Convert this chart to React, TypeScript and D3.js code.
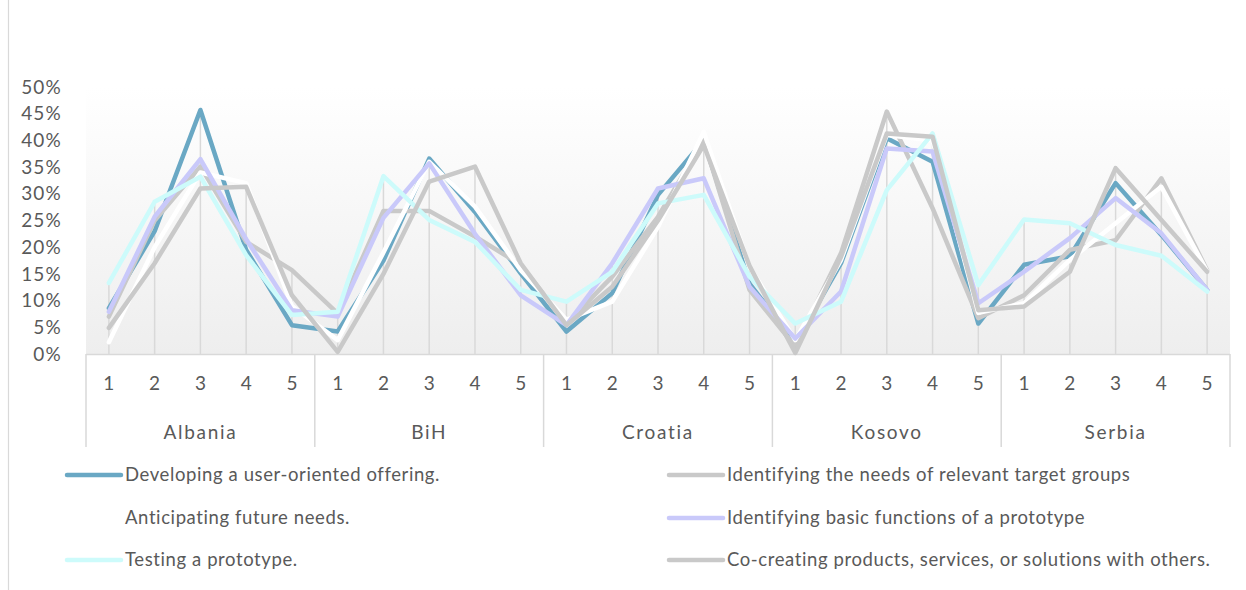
import React from "react";
import * as d3 from "d3";

const countries = ["Albania", "BiH", "Croatia", "Kosovo", "Serbia"];
const levels = ["1", "2", "3", "4", "5"];
const yTicks = [0, 0.05, 0.1, 0.15, 0.2, 0.25, 0.3, 0.35, 0.4, 0.45, 0.5];

const seriesNames = [
  "Developing a user-oriented offering.",
  "Identifying the needs of relevant target groups",
  "Anticipating future needs.",
  "Identifying basic functions of a prototype",
  "Testing a prototype.",
  "Co-creating products, services, or solutions with others.",
];
const seriesColors = ["#6aa8c4", "#c9c9c9", "#ffffff", "#c9c9fa", "#cdfbfb", "#c9c9c9"];

// values in percent, 5 countries x 5 levels
const developing = [8.6, 23, 45.7, 19.5, 5.4, 4.2, 17.5, 36.6, 26.6, 15.1, 4.2, 11.4, 29.8, 40, 13.2, 2, 17, 40.4, 36, 5.7, 16.7, 18.3, 32, 22.3, 12];
const identifyingNeeds = [7.0, 25, 35.1, 21, 15.7, 7.6, 26.8, 26.8, 22, 16.7, 5.7, 14.5, 25.7, 40, 12, 1.4, 18.9, 45.4, 27.3, 6.7, 11, 19.5, 21.3, 32.9, 15.7];
const anticipating = [2.2, 20, 34, 32, 9, 2.6, 19, 36, 27.6, 15.7, 6.4, 9.8, 23.8, 41.6, 16.3, 2.6, 17.6, 41, 40, 7.7, 9.5, 17.6, 24.5, 31.3, 15.5];
const basicFunctions = [7.9, 25.7, 36.5, 21.5, 8.2, 7, 25.5, 35.7, 22.5, 11, 5.4, 17, 31, 32.9, 12.6, 2.9, 11.7, 38.5, 37.9, 9.5, 15.4, 21.7, 29.2, 22.6, 12];
const testing = [13.3, 28.5, 33.2, 18.5, 7.3, 7.9, 33.3, 25.1, 21, 12, 9.8, 15.4, 28.2, 29.8, 14.5, 5.7, 9.8, 30.7, 41.3, 12.9, 25.2, 24.5, 20.4, 18.4, 11.7];
const coCreating = [4.9, 17, 31, 31.3, 11, 0.4, 15, 32.3, 35.1, 17, 5.4, 12.6, 25, 39.1, 16.5, 0.2, 18.2, 41.3, 40.7, 8.2, 8.9, 15.4, 34.8, 25.1, 15.4];

const seriesValues = [developing, identifyingNeeds, anticipating, basicFunctions, testing, coCreating];

const W = 1246;
const H = 590;
const FONT = "Lato, 'Open Sans', sans-serif";
const TEXT = "#595959";
const GRID = "#d9d9d9";

export default function App() {
  const keys = countries.flatMap((c) => levels.map((l) => `${c}-${l}`));
  const x = d3.scaleBand<string>().domain(keys).range([86, 1230]).padding(0);
  const cx = (i: number) => (x(keys[i]) as number) + x.bandwidth() / 2;
  const y = d3.scaleLinear().domain([0, 0.5]).range([354, 87]);
  const line = d3
    .line<number>()
    .x((_, i) => cx(i))
    .y((v) => y(v / 100));

  const groupX = d3.scaleBand<string>().domain(countries).range([86, 1230]).padding(0);

  const maxes = keys.map((_, i) => d3.max(seriesValues, (s) => s[i]) as number);

  const legendRows = [
    { x: 67, y: 475, s: 0 },
    { x: 669, y: 475, s: 1 },
    { x: 67, y: 518, s: 2 },
    { x: 669, y: 518, s: 3 },
    { x: 67, y: 560, s: 4 },
    { x: 669, y: 560, s: 5 },
  ];

  return (
    <div style={{ position: "absolute", left: 0, top: 0, width: W, height: H, background: "#fff" }}>
      <svg width={W} height={H} style={{ display: "block", fontFamily: FONT }}>
        <defs>
          <linearGradient id="plotbg" x1="0" y1="0" x2="0" y2="1">
            <stop offset="0" stopColor="#ffffff" />
            <stop offset="1" stopColor="#eeeeee" />
          </linearGradient>
        </defs>
        <rect x={0} y={0} width={W} height={H} fill="#fff" />
        <line x1={8.5} x2={8.5} y1={0} y2={H} stroke={GRID} strokeWidth={1.2} />
        <rect x={86} y={y(0.5)} width={1230 - 86} height={354 - y(0.5)} fill="url(#plotbg)" />

        {/* drop lines */}
        {maxes.map((m, i) => (
          <line
            key={`d${i}`}
            x1={cx(i)}
            x2={cx(i)}
            y1={y(m / 100)}
            y2={y(0)}
            stroke={GRID}
            strokeWidth={1.5}
          />
        ))}

        {/* y axis labels */}
        {yTicks.map((t) => (
          <text
            key={`y${t}`}
            x={62}
            y={y(t)}
            dy="0.35em"
            textAnchor="end"
            fontSize={19}
            letterSpacing={1.2}
            fill={TEXT}
          >
            {`${Math.round(t * 100)}%`}
          </text>
        ))}

        {/* category axis */}
        <line x1={86} x2={1230} y1={354.5} y2={354.5} stroke={GRID} strokeWidth={1.5} />
        {[...countries.map((c) => groupX(c) as number), 1230].map((gx, i) => (
          <line key={`g${i}`} x1={gx} x2={gx} y1={354} y2={447} stroke={GRID} strokeWidth={1.5} />
        ))}
        {keys.map((k, i) => (
          <text key={`t${k}`} x={cx(i)} y={383} dy="0.35em" textAnchor="middle" fontSize={19} fill={TEXT}>
            {levels[i % 5]}
          </text>
        ))}
        {countries.map((c) => (
          <text
            key={`c${c}`}
            x={(groupX(c) as number) + groupX.bandwidth() / 2}
            y={432}
            dy="0.35em"
            textAnchor="middle"
            fontSize={19}
            letterSpacing={1.7}
            fill={TEXT}
          >
            {c}
          </text>
        ))}

        {/* series */}
        {seriesValues.map((vals, si) => (
          <path
            key={`s${si}`}
            d={line(vals) as string}
            fill="none"
            stroke={seriesColors[si]}
            strokeWidth={4.5}
            strokeLinejoin="round"
            strokeLinecap="round"
          />
        ))}

        {/* legend */}
        {legendRows.map((r) => (
          <g key={`l${r.s}`}>
            <line
              x1={r.x}
              x2={r.x + 54}
              y1={r.y}
              y2={r.y}
              stroke={seriesColors[r.s]}
              strokeWidth={4.5}
              strokeLinecap="round"
            />
            <text x={r.x + 58} y={r.y} dy="0.35em" fontSize={18.5} letterSpacing={0.6} fill={TEXT}>
              {seriesNames[r.s]}
            </text>
          </g>
        ))}
      </svg>
    </div>
  );
}
